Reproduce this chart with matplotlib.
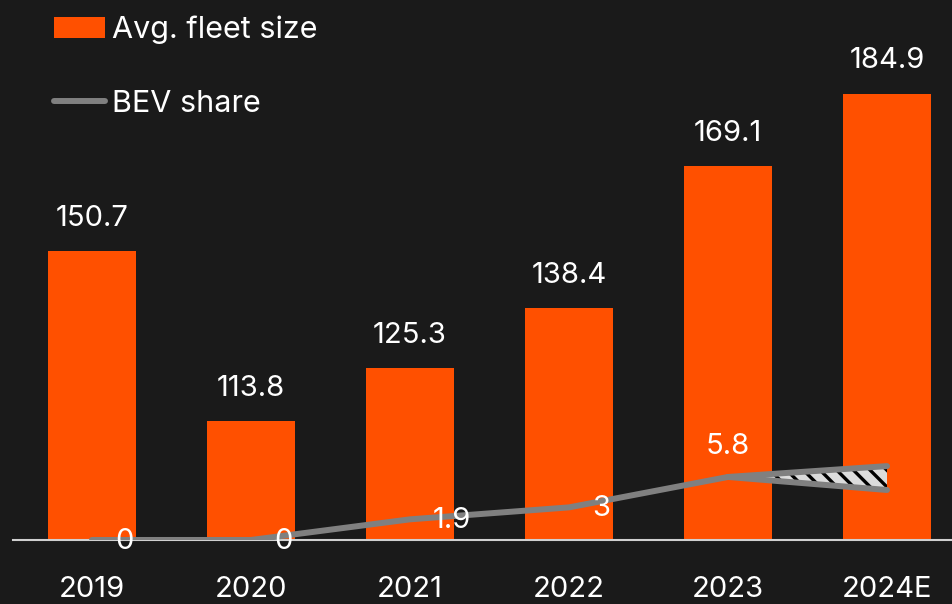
import numpy as np
import matplotlib.pyplot as plt
from matplotlib.patches import Patch
from matplotlib.lines import Line2D

plt.rcParams['font.family'] = ['Inter', 'DejaVu Sans']
plt.rcParams['hatch.linewidth'] = 2.4

years = ['2019', '2020', '2021', '2022', '2023', '2024E']
fleet = [150.7, 113.8, 125.3, 138.4, 169.1, 184.9]
bev_share = [0, 0, 1.9, 3, 5.8]
bev_2024_high = 6.8
bev_2024_low = 4.6

BG = '#1a1a1a'
ORANGE = '#ff5000'
GREY = '#808080'
FS = 21

fig = plt.figure(figsize=(9.53, 6.04), dpi=100, facecolor=BG)
ax = fig.add_axes([0.0136, 0.106, 0.9864, 0.894])
ax.set_facecolor(BG)
x = np.arange(len(years))

ax.bar(x, fleet, width=0.555, color=ORANGE, zorder=2)
ax.set_ylim(88.1, 205.2)
ax.set_xlim(-0.497, 5.415)
for xi, v in zip(x, fleet):
    ax.annotate(f'{v}', (xi, v), xytext=(0, 14), textcoords='offset points',
                ha='center', va='bottom', color='white', fontsize=FS)

ax.set_xticks(x)
ax.set_xticklabels(years, color='white', fontsize=FS)
ax.tick_params(axis='x', length=0, pad=26)
ax.set_yticks([])
for s in ['top', 'right', 'left']:
    ax.spines[s].set_visible(False)
ax.spines['bottom'].set_color('#d0d0d0')
ax.spines['bottom'].set_linewidth(1.5)
ax.spines['bottom'].set_zorder(3)

# BEV share on its own scale
ax2 = ax.twinx()
ax2.set_ylim(0, 49.7)
ax2.axis('off')
xb = x[:len(bev_share)]
ax2.plot(xb, bev_share, color=GREY, lw=4.3, solid_capstyle='round', zorder=4)

# 2024 forecast range
xf = [x[4], x[5]]
hi = [bev_share[-1], bev_2024_high]
lo = [bev_share[-1], bev_2024_low]
ax2.fill_between(xf, lo, hi, facecolor='#dcdcdc', edgecolor='black',
                 hatch='\\\\', linewidth=0, zorder=3)
ax2.plot(xf, hi, color=GREY, lw=4.3, solid_capstyle='round', zorder=4)
ax2.plot(xf, lo, color=GREY, lw=4.3, solid_capstyle='round', zorder=4)

for xi, v in zip(xb[:-1], bev_share[:-1]):
    ax2.annotate(f'{v}', (xi, v), xytext=(16.5, -1), textcoords='offset points',
                 ha='left', va='center', color='white', fontsize=FS, zorder=5)
ax2.annotate(f'{bev_share[-1]}', (xb[-1], bev_share[-1]), xytext=(0, 12),
             textcoords='offset points', ha='center', va='bottom',
             color='white', fontsize=FS, zorder=5)

handles = [Patch(facecolor=ORANGE, label='Avg. fleet size'),
           Line2D([0], [0], color=GREY, lw=4.3, solid_capstyle='round', label='BEV share')]
leg = ax.legend(handles=handles, loc='upper left', bbox_to_anchor=(0.027, 1.0),
                frameon=False, fontsize=22, labelcolor='white', handlelength=1.68,
                handleheight=0.68, handletextpad=0.22, labelspacing=1.5,
                borderaxespad=0.1)

fig.savefig('out.png', dpi=100, facecolor=BG)
